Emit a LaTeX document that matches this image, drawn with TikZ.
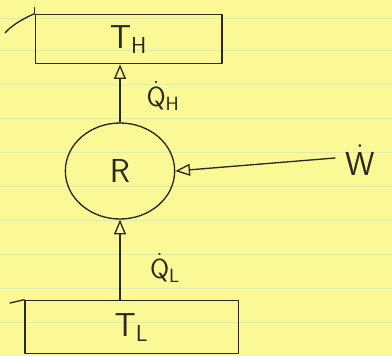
\documentclass[tikz,border=0pt]{standalone}
\usetikzlibrary{arrows.meta,shapes.geometric}
\definecolor{paper}{RGB}{250,249,150}
\definecolor{rule}{RGB}{222,236,165}
\definecolor{ink}{RGB}{45,40,30}
\tikzset{
  pen/.style={draw=ink,line width=1pt,line cap=round,line join=round},
  reservoir/.style={pen,rectangle,inner sep=0pt,text=ink,font=\fontsize{24}{28}\selectfont},
  machine/.style={pen,ellipse,inner sep=0pt,text=ink,font=\fontsize{34}{38}\selectfont},
  flow/.style={pen,-{Triangle[open,length=11pt,width=9pt]}},
  lbl/.style={text=ink,font=\fontsize{22}{26}\selectfont,inner sep=0pt},
  ruling/.style={draw=rule,line width=0.6pt}
}
\begin{document}
\begin{tikzpicture}[x=0.75pt,y=-0.75pt]
\fill[paper] (0,0) rectangle (392,356);
\useasboundingbox (0,0) rectangle (392,356);
\foreach \yy in {18,50,84,118,152,186,220,254,288,322} {\draw[ruling] (0,\yy) -- (392,\yy);}
% reservoirs
\node[reservoir,minimum width=140pt,minimum height=37pt] (th) at (128.5,39) {$\mathsf{T}_{\mathsf{H}}$};
\node[reservoir,minimum width=160pt,minimum height=40pt] (tl) at (131.5,327) {$\mathsf{T}_{\mathsf{L}}$};
% machine
\node[machine,minimum width=82pt,minimum height=72pt] (r) at (120,171) {$\mathsf{R}$};
% extra pen strokes of the sketch
\draw[pen] (th.north west) .. controls (20,20) and (10,27) .. (5,33);
\draw[pen] (th.north west) -- ++(0,-6);
\draw[pen] (tl.north west) -- (10,303);
% flows
\draw[flow] (r.north) -- (r.north |- th.south);
\draw[flow] (r.south |- tl.north) -- (r.south);
\coordinate (wsrc) at (335,158);
\draw[flow] (wsrc) -- (r.east);
% labels
\node[lbl] (qh) at (163,96) {$\dot{\mathsf{Q}}_{\mathsf{H}}$};
\node[lbl] (ql) at (165,268) {$\dot{\mathsf{Q}}_{\mathsf{L}}$};
\node[lbl,font=\fontsize{30}{34}\selectfont] (w) at (360,160) {$\dot{\mathsf{W}}$};
\end{tikzpicture}
\end{document}
